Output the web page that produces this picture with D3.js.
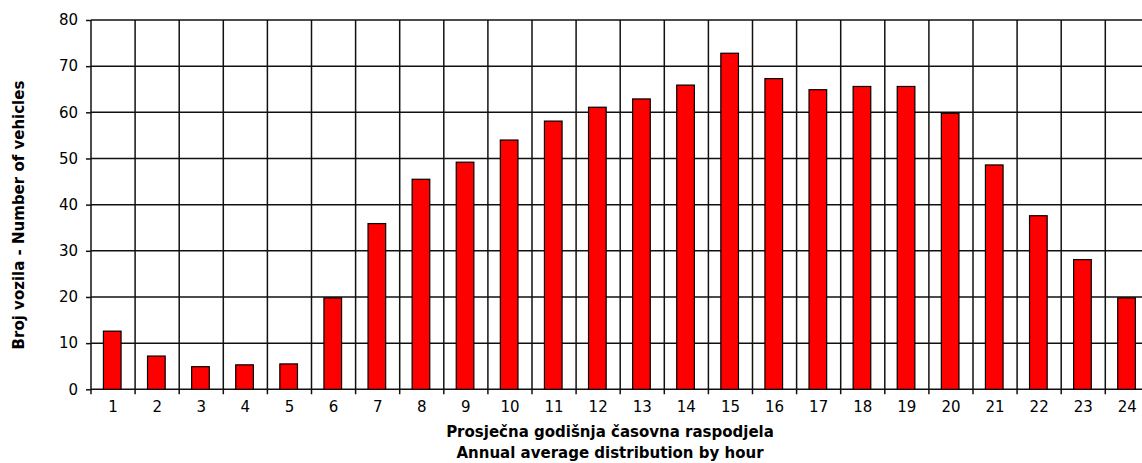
<!DOCTYPE html>
<html>
<head>
<meta charset="utf-8">
<script src="https://cdn.jsdelivr.net/npm/d3@7"></script>
<style>
  body { margin: 0; background: #fff; }
  svg { display: block; }
  .tick text { font-family: "DejaVu Sans", Verdana, sans-serif; font-size: 15px; fill: #000; }
  .title { font-family: "DejaVu Sans", Verdana, sans-serif; font-weight: bold; font-size: 15px; fill: #000; }
</style>
</head>
<body>
<div id="chart"></div>
<script>
// hours on the x axis
const hours = ["1","2","3","4","5","6","7","8","9","10","11","12",
               "13","14","15","16","17","18","19","20","21","22","23","24"];
// average vehicles per hour
const vehicles = [12.6, 7.2, 4.9, 5.3, 5.5, 19.8, 35.9, 45.5, 49.2, 54.0, 58.1, 61.1,
                  62.9, 65.9, 72.8, 67.3, 64.9, 65.6, 65.6, 59.8, 48.6, 37.6, 28.1, 19.8];
const yTicks = [0, 10, 20, 30, 40, 50, 60, 70, 80];
const xTitle = ["Prosječna godišnja časovna raspodjela", "Annual average distribution by hour"];
const yTitle = "Broj vozila - Number of vehicles";

function createBarChart(containerId) {
    /* Dimensions */
    const fixedWidth = 1142;
    const fixedHeight = 463;
    const margin = { top: 20, left: 91 };
    const plotWidth = 1058.4;   // runs past the right edge, like the original
    const plotHeight = 369.3;

    const data = hours.map((h, i) => ({ hour: h, value: vehicles[i] }));

    const xScale = d3.scaleBand()
        .domain(hours)
        .range([0, plotWidth])
        .padding(0);

    const yScale = d3.scaleLinear()
        .domain([0, 80])
        .range([plotHeight, 0]);

    const svg = d3.select(containerId)
        .append("svg")
        .attr("width", fixedWidth)
        .attr("height", fixedHeight)
        .append("g")
        .attr("transform", `translate(${margin.left},${margin.top})`);

    // horizontal grid
    svg.append("g")
        .selectAll("line")
        .data(yTicks)
        .join("line")
        .attr("x1", 0)
        .attr("x2", plotWidth)
        .attr("y1", d => yScale(d))
        .attr("y2", d => yScale(d))
        .style("stroke", "#111")
        .style("stroke-width", 1.5);

    // vertical grid on band edges, with tick marks below the axis
    const edges = hours.map(h => xScale(h)).concat([plotWidth]);
    svg.append("g")
        .selectAll("line")
        .data(edges)
        .join("line")
        .attr("x1", d => d)
        .attr("x2", d => d)
        .attr("y1", 0)
        .attr("y2", plotHeight + 5)
        .style("stroke", "#111")
        .style("stroke-width", 1.5);

    // y axis: ticks and labels
    const yAxis = svg.append("g")
        .call(d3.axisLeft(yScale).tickValues(yTicks).tickSize(5).tickPadding(8));
    yAxis.select(".domain").remove();
    yAxis.selectAll(".tick line").style("stroke", "#111").style("stroke-width", 1.5);

    // x axis labels
    const xAxis = svg.append("g")
        .attr("transform", `translate(0,${plotHeight})`)
        .call(d3.axisBottom(xScale).tickSize(0).tickPadding(12));
    xAxis.select(".domain").remove();

    // bars
    const barWidth = xScale.bandwidth() * 0.4;
    svg.append("g")
        .selectAll("rect")
        .data(data)
        .join("rect")
        .attr("x", d => xScale(d.hour) + (xScale.bandwidth() - barWidth) / 2 - 0.8)
        .attr("y", d => yScale(d.value))
        .attr("width", barWidth)
        .attr("height", d => plotHeight - yScale(d.value))
        .style("fill", "#ff0000")
        .style("stroke", "#000")
        .style("stroke-width", 1.2);

    // x axis title
    const xt = svg.append("text")
        .attr("class", "title")
        .attr("text-anchor", "middle")
        .attr("x", 519)
        .attr("y", 417);
    xTitle.forEach((line, i) => {
        xt.append("tspan")
            .attr("x", 519)
            .attr("dy", i === 0 ? 0 : 21)
            .text(line);
    });

    // y axis title
    svg.append("text")
        .attr("class", "title")
        .attr("text-anchor", "middle")
        .attr("transform", `translate(${24 - margin.left},${215 - margin.top}) rotate(-90)`)
        .text(yTitle);
}

createBarChart("#chart");
</script>
</body>
</html>
